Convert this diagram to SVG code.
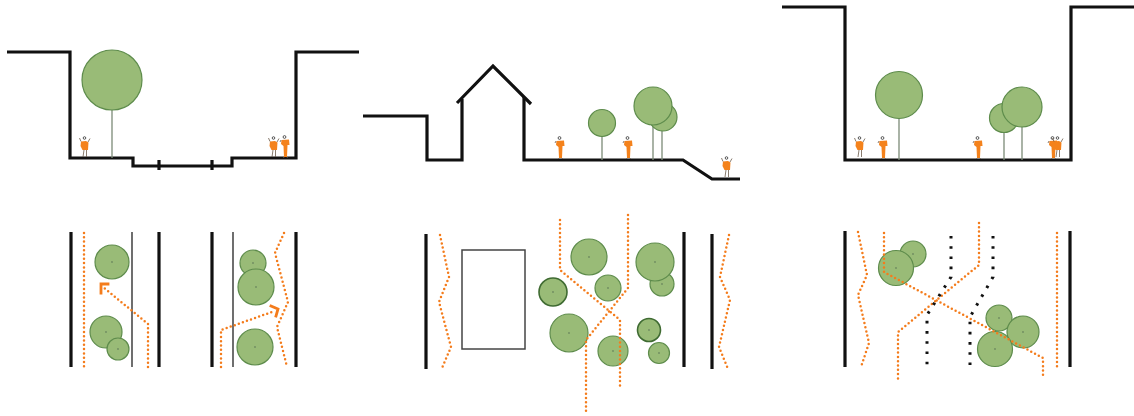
<svg xmlns="http://www.w3.org/2000/svg" width="1134" height="416" viewBox="0 0 1134 416">
  <style>
    .wall { fill: none; stroke: #111; stroke-width: 3.2; stroke-linejoin: miter; }
    .edge { fill: none; stroke: #111; stroke-width: 3.2; }
    .thin { fill: none; stroke: #222; stroke-width: 1.3; }
    .crown { fill: #99bb77; stroke: #5e8c4c; stroke-width: 1.2; }
    .crown-dk { fill: #99bb77; stroke: #3f6b32; stroke-width: 1.6; }
    .trunk { stroke: #7c8a77; stroke-width: 1.3; }
    .pith { fill: #6f8b60; }
    .path { fill: none; stroke: #f47c1c; stroke-width: 2.5; stroke-linecap: round; stroke-dasharray: 0 4.3; stroke-linejoin: round; }
    .chev { fill: none; stroke: #f47c1c; stroke-width: 2.8; stroke-linecap: square; }
    .lane { fill: none; stroke: #111; stroke-width: 3; stroke-dasharray: 2.6 7.6; }
    .body { fill: #f4821c; }
    .limb { stroke: #6b5a4a; stroke-width: 0.8; fill: none; }
  </style>
  <defs>
    <!-- walking figure, feet at origin -->
    <g id="walker">
      <circle cx="-0.5" cy="-19" r="1.3" fill="#fff" stroke="#333" stroke-width="0.8"/>
      <path class="body" d="M-4,-15.5 L1,-16 L3.5,-14.5 L3,-7 L-2.5,-7 L-4.5,-11 Z"/>
      <path class="limb" d="M-4,-15.5 L-5.5,-19 M3,-15 L5,-18.5 M-1,-7 L-2,0 M1.5,-7 L1.5,0"/>
    </g>
    <!-- standing figure with long coat -->
    <g id="stander">
      <circle cx="-0.5" cy="-20" r="1.4" fill="#fff" stroke="#333" stroke-width="0.8"/>
      <path class="body" d="M-3.5,-17 L4,-17.5 L4.5,-12 L2.5,-12 L2,0 L-1,0 L-1.5,-11 L-4,-13 Z"/>
      <path class="limb" d="M-4,-17 L-5,-15 M-1,0 L-1.5,1 M2,0 L2.5,1"/>
    </g>
  </defs>

  <!-- Section A: sunken street with tree on the left verge -->
  <g id="section-a">
    <path class="wall" d="M7,52 H70 V158 H133 V166 H232 V158 H296 V52 H359"/>
    <path class="wall" d="M159,160 V170 M212,160 V170"/>
    <line class="trunk" x1="112" y1="110" x2="112" y2="158"/>
    <circle class="crown" cx="112" cy="80" r="30"/>
    <use href="#walker" x="85" y="157"/>
    <use href="#walker" x="274" y="157"/>
    <use href="#stander" x="285" y="157"/>
  </g>

  <!-- Section B: house beside a stepped terrace -->
  <g id="section-b">
    <path class="wall" d="M363,116 H427 V160 H462 V99"/>
    <path class="wall" d="M457,103 L493,66 L531,104"/>
    <path class="wall" d="M524,97 V160 H683 L712,179 H740"/>
    <line class="trunk" x1="602" y1="136" x2="602" y2="160"/>
    <circle class="crown" cx="602" cy="123" r="13.5"/>
    <line class="trunk" x1="662" y1="124" x2="662" y2="160"/>
    <line class="trunk" x1="653" y1="120" x2="653" y2="160"/>
    <circle class="crown" cx="663" cy="117" r="14"/>
    <circle class="crown" cx="653" cy="106" r="19"/>
    <use href="#stander" x="560" y="158"/>
    <use href="#stander" x="628" y="158"/>
    <use href="#walker" x="727" y="177"/>
  </g>

  <!-- Section C: deep courtyard -->
  <g id="section-c">
    <path class="wall" d="M782,7 H845 V160 H1071 V7 H1134"/>
    <line class="trunk" x1="899" y1="118" x2="899" y2="160"/>
    <circle class="crown" cx="899" cy="95" r="23.5"/>
    <line class="trunk" x1="1004" y1="132" x2="1004" y2="160"/>
    <line class="trunk" x1="1022" y1="126" x2="1022" y2="160"/>
    <circle class="crown" cx="1004" cy="118" r="14.5"/>
    <circle class="crown" cx="1022" cy="107" r="20"/>
    <use href="#walker" x="860" y="157"/>
    <use href="#stander" x="883" y="158"/>
    <use href="#stander" x="978" y="158"/>
    <use href="#stander" x="1053" y="158"/>
    <use href="#walker" x="1058" y="157"/>
  </g>

  <!-- Plan A: two street strips with diagonal crossings -->
  <g id="plan-a">
    <path class="edge" d="M71,232 V367 M159,232 V367 M212,232 V367 M296,232 V367"/>
    <path class="thin" d="M132,232 V367 M233,232 V367"/>
    <circle class="crown" cx="112" cy="262" r="17"/><circle class="pith" cx="112" cy="262" r="0.9"/>
    <circle class="crown" cx="106" cy="332" r="16"/><circle class="pith" cx="106" cy="332" r="0.9"/>
    <circle class="crown" cx="118" cy="349" r="11"/><circle class="pith" cx="118" cy="349" r="0.9"/>
    <circle class="crown" cx="253" cy="263" r="13"/><circle class="pith" cx="253" cy="263" r="0.9"/>
    <circle class="crown" cx="256" cy="287" r="18"/><circle class="pith" cx="256" cy="287" r="0.9"/>
    <circle class="crown" cx="255" cy="347" r="18"/><circle class="pith" cx="255" cy="347" r="0.9"/>
  </g>

  <!-- Plan B: house block among scattered trees -->
  <g id="plan-b">
    <path class="edge" d="M426,234 V369 M684,232 V367 M712,234 V369"/>
    <rect x="462" y="250" width="63" height="99" fill="#fff" stroke="#444" stroke-width="1.5"/>
    <circle class="crown" cx="589" cy="257" r="18"/><circle class="pith" cx="589" cy="257" r="0.9"/>
    <circle class="crown-dk" cx="553" cy="292" r="14"/><circle class="pith" cx="553" cy="292" r="0.9"/>
    <circle class="crown" cx="608" cy="288" r="13"/><circle class="pith" cx="608" cy="288" r="0.9"/>
    <circle class="crown" cx="662" cy="284" r="12"/><circle class="pith" cx="662" cy="284" r="0.9"/>
    <circle class="crown" cx="655" cy="262" r="19"/><circle class="pith" cx="655" cy="262" r="0.9"/>
    <circle class="crown" cx="569" cy="333" r="19"/><circle class="pith" cx="569" cy="333" r="0.9"/>
    <circle class="crown" cx="613" cy="351" r="15"/><circle class="pith" cx="613" cy="351" r="0.9"/>
    <circle class="crown-dk" cx="649" cy="330" r="11.5"/><circle class="pith" cx="649" cy="330" r="0.9"/>
    <circle class="crown" cx="659" cy="353" r="10.5"/><circle class="pith" cx="659" cy="353" r="0.9"/>
  </g>

  <!-- Plan C: courtyard with crossing routes -->
  <g id="plan-c">
    <path class="edge" d="M845,231 V367 M1070,231 V367"/>
    <circle class="crown" cx="913" cy="254" r="13"/><circle class="pith" cx="913" cy="254" r="0.9"/>
    <circle class="crown" cx="896" cy="268" r="17.5"/><circle class="pith" cx="896" cy="268" r="0.9"/>
    <circle class="crown" cx="999" cy="318" r="13"/><circle class="pith" cx="999" cy="318" r="0.9"/>
    <circle class="crown" cx="1023" cy="332" r="16"/><circle class="pith" cx="1023" cy="332" r="0.9"/>
    <circle class="crown" cx="995" cy="349" r="17.5"/><circle class="pith" cx="995" cy="349" r="0.9"/>
  </g>

  <!-- Movement routes -->
  <g id="connectors">
    <!-- plan A -->
    <path class="path" d="M84,233 V368"/>
    <path class="path" d="M148,367 V324 L103,287"/>
    <path class="chev" d="M101,293 V284 H108"/>
    <path class="path" d="M221,367 V330 L272,312"/>
    <path class="chev" d="M271,306 L278,309 L276,316"/>
    <path class="path" d="M284,233 L275,253 L288,302 L277,327 L287,367"/>
    <!-- plan B -->
    <path class="path" d="M440,235 L449,277 L439,302 L451,347 L442,368"/>
    <path class="path" d="M729,235 L720,277 L730,300 L719,347 L728,369"/>
    <path class="path" d="M560,220 V270 L620,320 V387"/>
    <path class="path" d="M628,215 V288 L586,340 V413"/>
    <!-- plan C -->
    <path class="path" d="M858,232 L867,275 L858,295 L869,343 L861,367"/>
    <path class="path" d="M1057,233 V369"/>
    <path class="path" d="M979,223 V265 L898,332 V379"/>
    <path class="path" d="M884,233 V272 L1043,358 V377"/>
    <path class="lane" d="M951,236 V277 L927,315 V368"/>
    <path class="lane" d="M993,236 V277 L970,317 V368"/>
  </g>
</svg>
